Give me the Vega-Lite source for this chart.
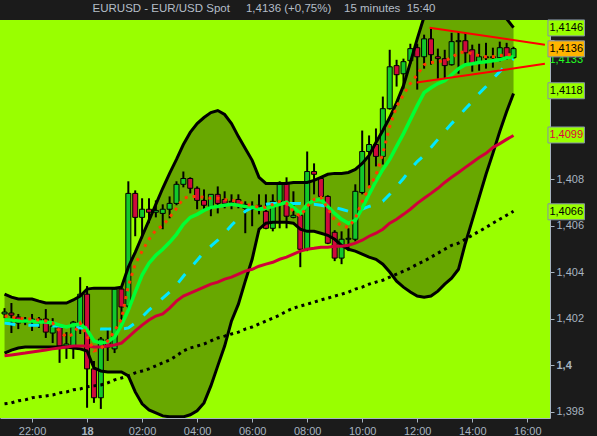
{
"$schema": "https://vega.github.io/schema/vega-lite/v6.json",
"width": 597, "height": 436,
"autosize": {"type": "fit", "contains": "padding"},
"padding": {"left": 0, "top": 3, "right": 8, "bottom": 0},
"background": "#1b1b1b",
"config": {"view": {"fill": "#99ff00", "stroke": null}, "font": "Liberation Sans", "bar": {"continuousBandSize": 5}},
"title": {"text": "EURUSD - EUR/USD Spot\u00a0\u00a0\u00a0\u00a0 1,4136 (+0,75%)\u00a0\u00a0\u00a0 15 minutes\u00a0 15:40", "anchor": "middle", "frame": "group", "dx": -11, "offset": 5, "color": "#b4bec8", "fontSize": 11.5, "fontWeight": "normal", "font": "Liberation Sans"},
"datasets": {
"c": [
{"t":-3,"o":1.40221,"h":1.40246,"l":1.40203,"c":1.40229,"ub":1.40306,"lb":1.40053,"rm":1.40041,"gm":1.40195,"cm":1.40182,"bd":1.39835,"om":1.40212},
{"t":-2.75,"o":1.40225,"h":1.40268,"l":1.40139,"c":1.40216,"ub":1.40293,"lb":1.40066,"rm":1.40045,"gm":1.40195,"cm":1.40178,"bd":1.39839,"om":1.40208},
{"t":-2.5,"o":1.40208,"h":1.40221,"l":1.40156,"c":1.40182,"ub":1.40285,"lb":1.40075,"rm":1.40049,"gm":1.40191,"cm":1.40173,"bd":1.39848,"om":1.40203},
{"t":-2.25,"o":1.40186,"h":1.40208,"l":1.40173,"c":1.40195,"ub":1.40285,"lb":1.40079,"rm":1.40053,"gm":1.40191,"cm":1.40173,"bd":1.39852,"om":1.40199},
{"t":-2,"o":1.40195,"h":1.40221,"l":1.40148,"c":1.40199,"ub":1.40285,"lb":1.40079,"rm":1.40058,"gm":1.40191,"cm":1.40173,"bd":1.39861,"om":1.40199},
{"t":-1.75,"o":1.40199,"h":1.40208,"l":1.40161,"c":1.40191,"ub":1.40276,"lb":1.40079,"rm":1.40062,"gm":1.40186,"cm":1.40173,"bd":1.39865,"om":1.40195},
{"t":-1.5,"o":1.40199,"h":1.40242,"l":1.40118,"c":1.40143,"ub":1.40268,"lb":1.40079,"rm":1.40066,"gm":1.40186,"cm":1.40173,"bd":1.39869,"om":1.40191},
{"t":-1.25,"o":1.40139,"h":1.40203,"l":1.40096,"c":1.40169,"ub":1.40268,"lb":1.40079,"rm":1.40071,"gm":1.40182,"cm":1.40169,"bd":1.39873,"om":1.40182},
{"t":-1,"o":1.40165,"h":1.40178,"l":1.40011,"c":1.40083,"ub":1.40268,"lb":1.40079,"rm":1.40075,"gm":1.40173,"cm":1.40169,"bd":1.39882,"om":1.40148},
{"t":-0.75,"o":1.40083,"h":1.40143,"l":1.40028,"c":1.40092,"ub":1.40268,"lb":1.40079,"rm":1.40079,"gm":1.40165,"cm":1.40165,"bd":1.39886,"om":1.40122},
{"t":-0.5,"o":1.40075,"h":1.40191,"l":1.40028,"c":1.40186,"ub":1.40281,"lb":1.40075,"rm":1.40083,"gm":1.40173,"cm":1.40165,"bd":1.39895,"om":1.40135},
{"t":-0.25,"o":1.40178,"h":1.40379,"l":1.40135,"c":1.40306,"ub":1.40298,"lb":1.40071,"rm":1.40083,"gm":1.40178,"cm":1.40161,"bd":1.39899,"om":1.40182},
{"t":0,"o":1.40306,"h":1.40341,"l":1.39818,"c":1.39985,"ub":1.40328,"lb":1.40062,"rm":1.40083,"gm":1.40152,"cm":1.40161,"bd":1.39908,"om":1.40126},
{"t":0.25,"o":1.39985,"h":1.40019,"l":1.39839,"c":1.39861,"ub":1.40332,"lb":1.39989,"rm":1.40079,"gm":1.40105,"cm":1.40161,"bd":1.39912,"om":1.40062},
{"t":0.5,"o":1.39861,"h":1.40122,"l":1.39813,"c":1.40113,"ub":1.40332,"lb":1.39976,"rm":1.40079,"gm":1.40096,"cm":1.40156,"bd":1.39916,"om":1.40071},
{"t":0.75,"o":1.40109,"h":1.40161,"l":1.40019,"c":1.40079,"ub":1.40332,"lb":1.39972,"rm":1.40083,"gm":1.40101,"cm":1.40156,"bd":1.39925,"om":1.40105},
{"t":1,"o":1.40071,"h":1.40332,"l":1.40053,"c":1.40328,"ub":1.40332,"lb":1.39972,"rm":1.40088,"gm":1.40122,"cm":1.40156,"bd":1.39938,"om":1.40148},
{"t":1.25,"o":1.40328,"h":1.40332,"l":1.40191,"c":1.40251,"ub":1.40336,"lb":1.39972,"rm":1.40096,"gm":1.40173,"cm":1.40156,"bd":1.39946,"om":1.40199},
{"t":1.5,"o":1.40255,"h":1.40791,"l":1.40242,"c":1.40739,"ub":1.40422,"lb":1.39955,"rm":1.40122,"gm":1.40238,"cm":1.40161,"bd":1.39955,"om":1.40341},
{"t":1.75,"o":1.40739,"h":1.40752,"l":1.40555,"c":1.40636,"ub":1.40486,"lb":1.39886,"rm":1.40148,"gm":1.40315,"cm":1.40182,"bd":1.39968,"om":1.40435},
{"t":2,"o":1.40636,"h":1.40718,"l":1.40546,"c":1.40671,"ub":1.40555,"lb":1.39835,"rm":1.40173,"gm":1.40388,"cm":1.40208,"bd":1.39976,"om":1.40491},
{"t":2.25,"o":1.40671,"h":1.40718,"l":1.40611,"c":1.40658,"ub":1.40623,"lb":1.39809,"rm":1.40195,"gm":1.40439,"cm":1.40238,"bd":1.39985,"om":1.40542},
{"t":2.5,"o":1.40658,"h":1.40709,"l":1.40636,"c":1.40666,"ub":1.40692,"lb":1.39796,"rm":1.40212,"gm":1.40473,"cm":1.40263,"bd":1.39998,"om":1.40581},
{"t":2.75,"o":1.40653,"h":1.40692,"l":1.40585,"c":1.40671,"ub":1.40761,"lb":1.39783,"rm":1.40221,"gm":1.40499,"cm":1.40289,"bd":1.40011,"om":1.40602},
{"t":3,"o":1.40671,"h":1.40726,"l":1.40632,"c":1.40696,"ub":1.40825,"lb":1.39779,"rm":1.40246,"gm":1.40529,"cm":1.40315,"bd":1.40023,"om":1.40636},
{"t":3.25,"o":1.40696,"h":1.40791,"l":1.40688,"c":1.40778,"ub":1.40885,"lb":1.39779,"rm":1.40276,"gm":1.40563,"cm":1.40345,"bd":1.40041,"om":1.40675},
{"t":3.5,"o":1.40778,"h":1.40833,"l":1.40765,"c":1.40803,"ub":1.40949,"lb":1.39779,"rm":1.40298,"gm":1.40606,"cm":1.40383,"bd":1.40062,"om":1.40718},
{"t":3.75,"o":1.40803,"h":1.40808,"l":1.40739,"c":1.40761,"ub":1.41001,"lb":1.39788,"rm":1.40311,"gm":1.40636,"cm":1.40418,"bd":1.40075,"om":1.40726},
{"t":4,"o":1.40761,"h":1.40769,"l":1.40671,"c":1.40709,"ub":1.41039,"lb":1.39805,"rm":1.40323,"gm":1.40649,"cm":1.40452,"bd":1.40083,"om":1.40726},
{"t":4.25,"o":1.40709,"h":1.40756,"l":1.40662,"c":1.40688,"ub":1.41065,"lb":1.39839,"rm":1.40336,"gm":1.40666,"cm":1.40486,"bd":1.40092,"om":1.40722},
{"t":4.5,"o":1.40683,"h":1.40735,"l":1.40641,"c":1.40735,"ub":1.41086,"lb":1.39912,"rm":1.40349,"gm":1.40679,"cm":1.40512,"bd":1.40105,"om":1.40718},
{"t":4.75,"o":1.40735,"h":1.40769,"l":1.40653,"c":1.40696,"ub":1.41095,"lb":1.39998,"rm":1.40358,"gm":1.40683,"cm":1.40538,"bd":1.40118,"om":1.40718},
{"t":5,"o":1.40713,"h":1.40748,"l":1.40675,"c":1.40696,"ub":1.41078,"lb":1.40083,"rm":1.40371,"gm":1.40688,"cm":1.40568,"bd":1.40126,"om":1.40713},
{"t":5.25,"o":1.40705,"h":1.40735,"l":1.40671,"c":1.40701,"ub":1.41039,"lb":1.40191,"rm":1.40379,"gm":1.40692,"cm":1.40602,"bd":1.40135,"om":1.40709},
{"t":5.5,"o":1.40713,"h":1.40735,"l":1.40675,"c":1.40692,"ub":1.40983,"lb":1.40263,"rm":1.40392,"gm":1.40688,"cm":1.40632,"bd":1.40143,"om":1.40705},
{"t":5.75,"o":1.40692,"h":1.40705,"l":1.40568,"c":1.40675,"ub":1.40932,"lb":1.40362,"rm":1.40405,"gm":1.40683,"cm":1.40662,"bd":1.40156,"om":1.40692},
{"t":6,"o":1.40671,"h":1.40705,"l":1.40598,"c":1.40679,"ub":1.40881,"lb":1.40456,"rm":1.40413,"gm":1.40679,"cm":1.40679,"bd":1.40165,"om":1.40688},
{"t":6.25,"o":1.40688,"h":1.40735,"l":1.40649,"c":1.40683,"ub":1.40808,"lb":1.40585,"rm":1.40426,"gm":1.40671,"cm":1.40688,"bd":1.40178,"om":1.40679},
{"t":6.5,"o":1.40662,"h":1.40735,"l":1.40585,"c":1.40589,"ub":1.40782,"lb":1.40611,"rm":1.40435,"gm":1.40675,"cm":1.40692,"bd":1.40191,"om":1.40679},
{"t":6.75,"o":1.40589,"h":1.40735,"l":1.40576,"c":1.40705,"ub":1.40782,"lb":1.40615,"rm":1.40443,"gm":1.40683,"cm":1.40696,"bd":1.40203,"om":1.40692},
{"t":7,"o":1.40705,"h":1.40791,"l":1.40589,"c":1.40786,"ub":1.40782,"lb":1.40615,"rm":1.40456,"gm":1.40692,"cm":1.40696,"bd":1.40216,"om":1.40705},
{"t":7.25,"o":1.40786,"h":1.40808,"l":1.40589,"c":1.40641,"ub":1.40782,"lb":1.40615,"rm":1.40465,"gm":1.40701,"cm":1.40696,"bd":1.40233,"om":1.40696},
{"t":7.5,"o":1.40636,"h":1.40748,"l":1.40632,"c":1.40645,"ub":1.40786,"lb":1.40611,"rm":1.40478,"gm":1.40679,"cm":1.40696,"bd":1.40246,"om":1.40662},
{"t":7.75,"o":1.40645,"h":1.40653,"l":1.40422,"c":1.40499,"ub":1.40786,"lb":1.40585,"rm":1.40491,"gm":1.40653,"cm":1.40696,"bd":1.40255,"om":1.40641},
{"t":8,"o":1.40499,"h":1.40919,"l":1.40491,"c":1.40833,"ub":1.40786,"lb":1.40576,"rm":1.40499,"gm":1.40692,"cm":1.40692,"bd":1.40263,"om":1.40683},
{"t":8.25,"o":1.40833,"h":1.40868,"l":1.40735,"c":1.40821,"ub":1.40795,"lb":1.40576,"rm":1.40503,"gm":1.40709,"cm":1.40692,"bd":1.40272,"om":1.40713},
{"t":8.5,"o":1.40803,"h":1.40808,"l":1.40722,"c":1.40726,"ub":1.40808,"lb":1.40568,"rm":1.40508,"gm":1.40713,"cm":1.40688,"bd":1.40281,"om":1.40722},
{"t":8.75,"o":1.40726,"h":1.40731,"l":1.40521,"c":1.40525,"ub":1.40821,"lb":1.40559,"rm":1.40508,"gm":1.40683,"cm":1.40683,"bd":1.40289,"om":1.40675},
{"t":9,"o":1.40572,"h":1.40581,"l":1.40448,"c":1.40461,"ub":1.40825,"lb":1.40542,"rm":1.40512,"gm":1.40653,"cm":1.40679,"bd":1.40298,"om":1.40623},
{"t":9.25,"o":1.40461,"h":1.40576,"l":1.40435,"c":1.40542,"ub":1.40825,"lb":1.40516,"rm":1.40512,"gm":1.40628,"cm":1.40671,"bd":1.40306,"om":1.40598},
{"t":9.5,"o":1.40542,"h":1.40589,"l":1.40491,"c":1.40546,"ub":1.40829,"lb":1.40499,"rm":1.40516,"gm":1.40611,"cm":1.40662,"bd":1.40315,"om":1.40593},
{"t":9.75,"o":1.40542,"h":1.40778,"l":1.40533,"c":1.40748,"ub":1.40842,"lb":1.40491,"rm":1.40525,"gm":1.40623,"cm":1.40658,"bd":1.40328,"om":1.40632},
{"t":10,"o":1.40743,"h":1.41009,"l":1.40735,"c":1.40919,"ub":1.40868,"lb":1.40478,"rm":1.40538,"gm":1.40675,"cm":1.40671,"bd":1.40336,"om":1.40705},
{"t":10.25,"o":1.40919,"h":1.40988,"l":1.40769,"c":1.40949,"ub":1.40902,"lb":1.40465,"rm":1.40555,"gm":1.40735,"cm":1.40683,"bd":1.40349,"om":1.40765},
{"t":10.5,"o":1.40949,"h":1.41018,"l":1.40855,"c":1.40898,"ub":1.40958,"lb":1.40456,"rm":1.40568,"gm":1.40791,"cm":1.40692,"bd":1.40358,"om":1.40816},
{"t":10.75,"o":1.40898,"h":1.41155,"l":1.40863,"c":1.41103,"ub":1.41009,"lb":1.40435,"rm":1.40585,"gm":1.40842,"cm":1.40705,"bd":1.40366,"om":1.40911},
{"t":11,"o":1.41103,"h":1.41356,"l":1.41099,"c":1.41283,"ub":1.41065,"lb":1.40401,"rm":1.40611,"gm":1.40885,"cm":1.40735,"bd":1.40379,"om":1.41026},
{"t":11.25,"o":1.41288,"h":1.41313,"l":1.41198,"c":1.41249,"ub":1.41129,"lb":1.40362,"rm":1.40628,"gm":1.40941,"cm":1.40769,"bd":1.40392,"om":1.41112},
{"t":11.5,"o":1.41253,"h":1.41318,"l":1.41189,"c":1.41305,"ub":1.41202,"lb":1.40336,"rm":1.40649,"gm":1.40996,"cm":1.40803,"bd":1.40405,"om":1.41163},
{"t":11.75,"o":1.41309,"h":1.41382,"l":1.41296,"c":1.41361,"ub":1.41301,"lb":1.40315,"rm":1.40671,"gm":1.41056,"cm":1.40842,"bd":1.40418,"om":1.41211},
{"t":12,"o":1.41365,"h":1.41382,"l":1.41185,"c":1.41326,"ub":1.41403,"lb":1.40298,"rm":1.40696,"gm":1.41116,"cm":1.40876,"bd":1.40435,"om":1.41249},
{"t":12.25,"o":1.41326,"h":1.41421,"l":1.41275,"c":1.41403,"ub":1.41498,"lb":1.40293,"rm":1.40718,"gm":1.41172,"cm":1.40902,"bd":1.40448,"om":1.41292},
{"t":12.5,"o":1.41403,"h":1.41446,"l":1.41292,"c":1.41335,"ub":1.41562,"lb":1.40298,"rm":1.40739,"gm":1.41193,"cm":1.40936,"bd":1.40465,"om":1.41301},
{"t":12.75,"o":1.41326,"h":1.41361,"l":1.41232,"c":1.41318,"ub":1.41596,"lb":1.40319,"rm":1.40761,"gm":1.41211,"cm":1.40971,"bd":1.40482,"om":1.41305},
{"t":13,"o":1.41318,"h":1.41356,"l":1.41232,"c":1.41288,"ub":1.41618,"lb":1.40349,"rm":1.40786,"gm":1.41223,"cm":1.41005,"bd":1.40499,"om":1.41309},
{"t":13.25,"o":1.41292,"h":1.41429,"l":1.41288,"c":1.41391,"ub":1.41631,"lb":1.40375,"rm":1.40808,"gm":1.41249,"cm":1.41039,"bd":1.40516,"om":1.41322},
{"t":13.5,"o":1.41391,"h":1.41433,"l":1.41253,"c":1.41395,"ub":1.41635,"lb":1.40413,"rm":1.40829,"gm":1.41275,"cm":1.41069,"bd":1.40525,"om":1.41343},
{"t":13.75,"o":1.41395,"h":1.41429,"l":1.41288,"c":1.41343,"ub":1.41635,"lb":1.40525,"rm":1.40851,"gm":1.41292,"cm":1.41103,"bd":1.40542,"om":1.41348},
{"t":14,"o":1.41356,"h":1.41378,"l":1.41262,"c":1.41296,"ub":1.41626,"lb":1.40623,"rm":1.40872,"gm":1.41296,"cm":1.41133,"bd":1.40559,"om":1.41339},
{"t":14.25,"o":1.41305,"h":1.41382,"l":1.41266,"c":1.41326,"ub":1.41613,"lb":1.40722,"rm":1.40893,"gm":1.41301,"cm":1.41168,"bd":1.40576,"om":1.41331},
{"t":14.5,"o":1.41326,"h":1.41386,"l":1.41275,"c":1.41322,"ub":1.41592,"lb":1.40821,"rm":1.40911,"gm":1.41305,"cm":1.41198,"bd":1.40593,"om":1.41326},
{"t":14.75,"o":1.41322,"h":1.41365,"l":1.41279,"c":1.41326,"ub":1.41562,"lb":1.40911,"rm":1.40936,"gm":1.41309,"cm":1.41232,"bd":1.40611,"om":1.41326},
{"t":15,"o":1.41322,"h":1.41391,"l":1.41305,"c":1.41365,"ub":1.41528,"lb":1.41005,"rm":1.40953,"gm":1.41313,"cm":1.41262,"bd":1.40628,"om":1.41331},
{"t":15.25,"o":1.41365,"h":1.41386,"l":1.41313,"c":1.41322,"ub":1.41489,"lb":1.41091,"rm":1.40971,"gm":1.41322,"cm":1.41292,"bd":1.40645,"om":1.41335},
{"t":15.5,"o":1.41322,"h":1.41369,"l":1.41318,"c":1.41361,"ub":1.41451,"lb":1.41168,"rm":1.40988,"gm":1.41326,"cm":1.41318,"bd":1.40662,"om":1.41335}
],
"tri": [
{"seg":"top","t":12.45,"p":1.41451},
{"seg":"top","t":16.64,"p":1.41378},
{"seg":"bottom","t":11.98,"p":1.41215},
{"seg":"bottom","t":16.64,"p":1.41296}
],
"lab": [
{"kind":"upper","p":1.4145,"txt":"1,4146"},
{"kind":"ma_green","p":1.41312,"txt":"1,4133"},
{"kind":"close","p":1.4136,"txt":"1,4136"},
{"kind":"lower","p":1.4118,"txt":"1,4118"},
{"kind":"ma_red","p":1.4099,"txt":"1,4099"},
{"kind":"ma_black","p":1.4066,"txt":"1,4066"}
]
},
"data": {"name": "c"},
"layer": [
{"mark": {"type": "area", "color": "#68a800", "clip": true},
 "encoding": {
 "x": {"field": "t", "type": "quantitative", "title": null, "scale": {"domain": [-2.983, 16.644], "nice": false, "zero": false},
 "axis": {"orient": "bottom", "values": [-2,0,2,4,6,8,10,12,14,16], "title": null, "grid": false,
 "labelExpr": "datum.value == 0 ? '18' : ((((datum.value + 24) % 24) < 10) ? '0' : '') + ((datum.value + 24) % 24) + ':00'",
 "labelFontWeight": {"condition": {"test": "datum.value == 0", "value": "bold"}, "value": "normal"},
 "labelColor": "#a8b4c0", "labelFontSize": 11, "labelFont": "Liberation Sans", "tickColor": "#a8b4c0", "tickSize": 4, "domainColor": "#a8b4c0", "labelPadding": 3, "labelFlush": false, "labelOverlap": false}},
 "y": {"field": "ub", "type": "quantitative", "title": null, "scale": {"domain": [1.39774, 1.41484], "nice": false, "zero": false},
 "axis": {"orient": "right", "title": null, "grid": false, "values": [1.398,1.399,1.4,1.401,1.402,1.403,1.404,1.405,1.406,1.407,1.408,1.409,1.41,1.411,1.412,1.413,1.414],
 "labelExpr": "(round(datum.value * 1000) % 2 == 0 && round(datum.value * 1000) < 1410) ? (round(datum.value * 1000) == 1400 ? '1,4' : '1,' + (round(datum.value * 1000) - 1000)) : ''",
 "labelFontWeight": {"condition": {"test": "round(datum.value * 1000) == 1400", "value": "bold"}, "value": "normal"},
 "labelColor": "#a8b4c0", "labelFontSize": 11, "labelFont": "Liberation Sans", "tickColor": "#a8b4c0", "tickSize": 4, "domainColor": "#a8b4c0", "labelPadding": 2, "labelFlush": false, "labelOverlap": false}},
 "y2": {"field": "lb"}}},
{"mark": {"type": "rule", "color": "#000000", "strokeWidth": 2, "clip": true},
 "encoding": {"x": {"field": "t", "type": "quantitative", "title": null}, "y": {"field": "l", "type": "quantitative", "title": null}, "y2": {"field": "h"}}},
{"mark": {"type": "bar", "stroke": "#000000", "strokeWidth": 1, "clip": true},
 "encoding": {"x": {"field": "t", "type": "quantitative", "title": null}, "y": {"field": "o", "type": "quantitative", "title": null}, "y2": {"field": "c"},
 "fill": {"condition": {"test": "datum.c >= datum.o", "value": "#12c82a"}, "value": "#cf0a3c"}}},
{"mark": {"type": "line", "color": "#000000", "strokeWidth": 3, "clip": true},
 "encoding": {"x": {"field": "t", "type": "quantitative", "title": null}, "y": {"field": "ub", "type": "quantitative", "title": null}}},
{"mark": {"type": "line", "color": "#000000", "strokeWidth": 3, "clip": true},
 "encoding": {"x": {"field": "t", "type": "quantitative", "title": null}, "y": {"field": "lb", "type": "quantitative", "title": null}}},
{"mark": {"type": "line", "color": "#000000", "strokeWidth": 3, "strokeDash": [3, 4], "clip": true},
 "encoding": {"x": {"field": "t", "type": "quantitative", "title": null}, "y": {"field": "bd", "type": "quantitative", "title": null}}},
{"mark": {"type": "line", "color": "#d0003a", "strokeWidth": 3, "clip": true},
 "encoding": {"x": {"field": "t", "type": "quantitative", "title": null}, "y": {"field": "rm", "type": "quantitative", "title": null}}},
{"mark": {"type": "line", "color": "#00e8ff", "strokeWidth": 3, "strokeDash": [11, 13], "clip": true},
 "encoding": {"x": {"field": "t", "type": "quantitative", "title": null}, "y": {"field": "cm", "type": "quantitative", "title": null}}},
{"mark": {"type": "line", "color": "#00ff33", "strokeWidth": 3.5, "clip": true},
 "encoding": {"x": {"field": "t", "type": "quantitative", "title": null}, "y": {"field": "gm", "type": "quantitative", "title": null}}},
{"mark": {"type": "line", "color": "#ff3c00", "strokeWidth": 3, "strokeDash": [3, 5], "clip": true},
 "encoding": {"x": {"field": "t", "type": "quantitative", "title": null}, "y": {"field": "om", "type": "quantitative", "title": null}}},
{"data": {"name": "tri"},
 "mark": {"type": "line", "color": "#ff0000", "strokeWidth": 2, "clip": true},
 "encoding": {"x": {"field": "t", "type": "quantitative", "title": null}, "y": {"field": "p", "type": "quantitative", "title": null}, "detail": {"field": "seg"}}},
{"data": {"name": "lab"},
 "transform": [{"filter": "datum.kind == 'ma_green'"}],
 "mark": {"type": "text", "align": "center", "baseline": "middle", "fontSize": 11, "font": "Liberation Sans", "color": "#22ff22", "clip": false},
 "encoding": {"x": {"datum": 17.415}, "y": {"field": "p", "type": "quantitative", "title": null}, "text": {"field": "txt"}}},
{"data": {"name": "lab"},
 "transform": [{"filter": "datum.kind != 'ma_green'"}],
 "mark": {"type": "rect", "stroke": "#8494a4", "strokeWidth": 1, "yOffset": -8, "y2Offset": 8, "clip": false},
 "encoding": {"x": {"datum": 16.751}, "x2": {"datum": 18.079}, "y": {"field": "p", "type": "quantitative", "title": null}, "y2": {"field": "p"},
 "fill": {"condition": {"test": "datum.kind == 'close'", "value": "#ffb400"}, "value": "#99ff00"}}},
{"data": {"name": "lab"},
 "transform": [{"filter": "datum.kind != 'ma_green'"}],
 "mark": {"type": "text", "align": "center", "baseline": "middle", "fontSize": 11, "font": "Liberation Sans", "clip": false},
 "encoding": {"x": {"datum": 17.415}, "y": {"field": "p", "type": "quantitative", "title": null}, "text": {"field": "txt"},
 "color": {"condition": {"test": "datum.kind == 'ma_red'", "value": "#e0003c"}, "value": "#000000"}}}
]
}
